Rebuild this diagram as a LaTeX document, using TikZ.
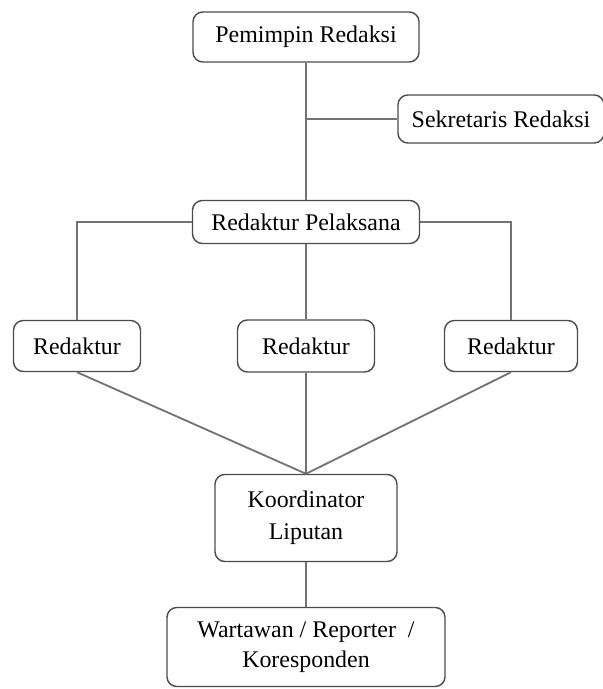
\documentclass[tikz,border=0pt]{standalone}
\usepackage{fontspec}
\setmainfont{Liberation Serif}
\usetikzlibrary{positioning}
\definecolor{LineClr}{rgb}{0.45,0.45,0.45}
\definecolor{BoxClr}{rgb}{0.3,0.3,0.3}

\begin{document}
\begin{tikzpicture}[x=0.025cm,y=-0.025cm,
  box/.style={draw=BoxClr,line width=1pt,rounded corners=7pt,fill=white,
    align=center,inner sep=0pt,font=\fontsize{17}{23}\selectfont},
  link/.style={draw=LineClr,line width=1.3pt}]
\useasboundingbox (0,0) rectangle (603,689);

\node[box,minimum width=5.65cm,minimum height=1.25cm] (PR) at (306,37) {Pemimpin Redaksi};
\node[box,minimum width=5.15cm,minimum height=1.2cm] (SR) at (501,119) {Sekretaris Redaksi};
\node[box,minimum width=5.675cm,minimum height=1.075cm] (RP) at (306,222) {Redaktur Pelaksana};

\node[box,minimum width=3.175cm,minimum height=1.275cm] (RA) at (77,346) {Redaktur};
\node[box,minimum width=3.425cm,minimum height=1.3cm] (RB) at (306,346) {Redaktur};
\node[box,minimum width=3.325cm,minimum height=1.275cm] (RC) at (511,346) {Redaktur};

\node[box,minimum width=4.55cm,minimum height=2.175cm] (KL) at (306,518) {Koordinator\\Liputan};
\node[box,minimum width=6.95cm,minimum height=1.975cm,font=\fontsize{17}{21}\selectfont] (WR) at (306,647)
  {Wartawan / Reporter\ \ /\\Koresponden};

\draw[link] (PR) -- (RP);
\draw[link] (PR.south |- SR.west) -- (SR.west);

\draw[link] (RP.west) -| (RA.north);
\draw[link] (RP.east) -| (RC.north);
\draw[link] (RP) -- (RB);

\draw[link] (RA.south) -- (KL.north);
\draw[link] (RB.south) -- (KL.north);
\draw[link] (RC.south) -- (KL.north);
\draw[link] (KL) -- (WR);

\end{tikzpicture}
\end{document}
